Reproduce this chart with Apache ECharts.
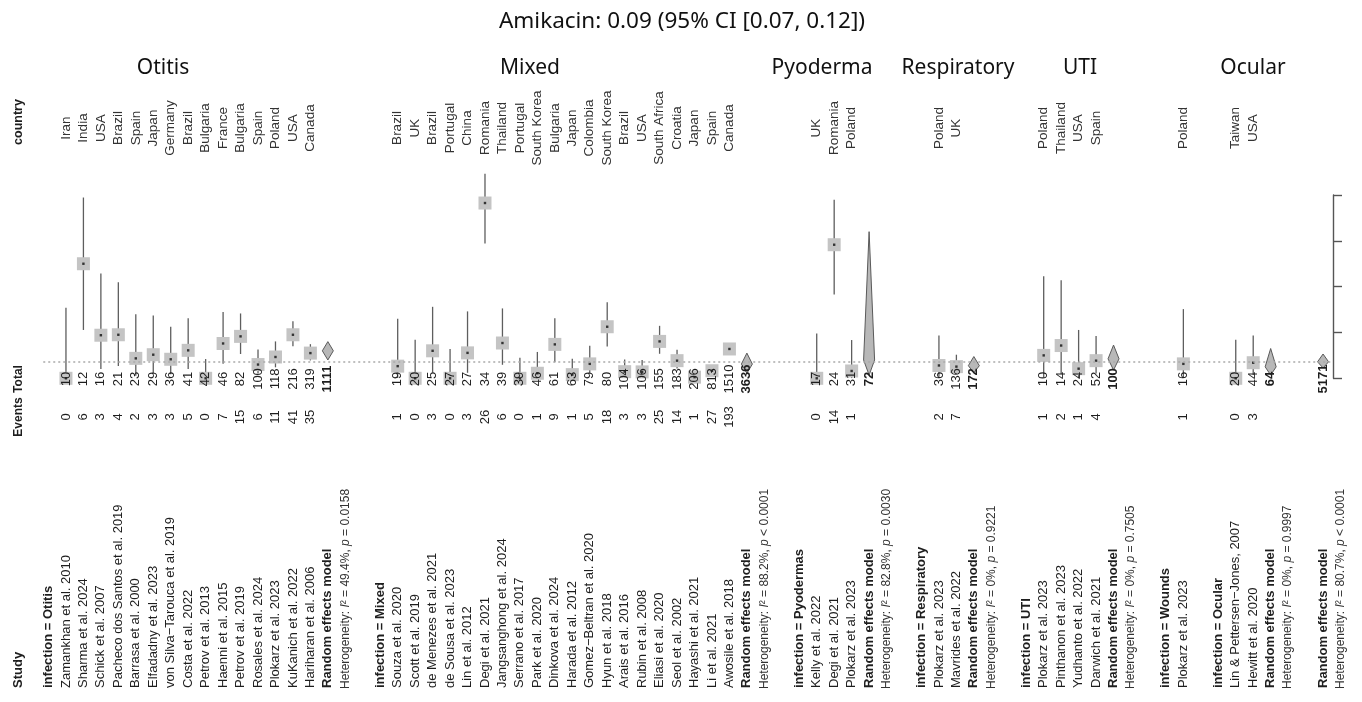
<!DOCTYPE html>
<html><head><meta charset="utf-8">
<script src="https://cdn.jsdelivr.net/npm/echarts@6/dist/echarts.min.js"></script>
<style>html,body{margin:0;padding:0;background:#fff}#c{width:1362px;height:702px}</style>
</head><body><div id="c"></div>
<script>
// ---------------- DATA ----------------
const chartTitle = "Amikacin: 0.09 (95% CI [0.07, 0.12])";

const otitisStudies = ["Zamankhan et al. 2010","Sharma et al. 2024","Schick et al. 2007","Pacheco dos Santos et al. 2019","Barrasa et al. 2000","Elfadadny et al. 2023","von Silva\u2212Tarouca et al. 2019","Costa et al. 2022","Petrov et al. 2013","Haenni et al. 2015","Petrov et al. 2019","Rosales et al. 2024","Plokarz et al. 2023","KuKanich et al. 2022","Hariharan et al. 2006"];
const otitisCountries = ["Iran","India","USA","Brazil","Spain","Japan","Germany","Brazil","Bulgaria","France","Bulgaria","Spain","Poland","USA","Canada"];
const otitisEvents = [0,6,3,4,2,3,3,5,0,7,15,6,11,41,35];
const otitisTotals = [10,12,16,21,23,29,36,41,42,46,82,100,118,216,319];
const otitisEst   = [0,0.5,0.188,0.19,0.087,0.103,0.083,0.122,0,0.152,0.183,0.06,0.093,0.19,0.11];
const otitisLower = [0,0.211,0.041,0.054,0.011,0.022,0.018,0.041,0,0.063,0.106,0.022,0.048,0.14,0.078];
const otitisUpper = [0.308,0.789,0.457,0.419,0.28,0.274,0.225,0.262,0.084,0.289,0.283,0.126,0.161,0.249,0.149];

const mixedStudies = ["Souza et al. 2020","Scott et al. 2019","de Menezes et al. 2021","de Sousa et al. 2023","Lin et al. 2012","Degi et al. 2021","Jangsanghong et al. 2024","Serrano et al. 2017","Park et al. 2020","Dinkova et al. 2024","Harada et al. 2012","Gomez\u2212Beltran et al. 2020","Hyun et al. 2018","Arais et al. 2016","Rubin et al. 2008","Eliasi et al. 2020","Seol et al. 2002","Hayashi et al. 2021","Li et al. 2021","Awosile et al. 2018"];
const mixedCountries = ["Brazil","UK","Brazil","Portugal","China","Romania","Thailand","Portugal","South Korea","Bulgaria","Japan","Colombia","South Korea","Brazil","USA","South Africa","Croatia","Japan","Spain","Canada"];
const mixedEvents = [1,0,3,0,3,26,6,0,1,9,1,5,18,3,3,25,14,1,27,193];
const mixedTotals = [19,20,25,27,27,34,39,39,46,61,63,79,80,104,106,155,183,206,813,1510];
const mixedEst   = [0.053,0,0.12,0,0.111,0.765,0.154,0,0.022,0.148,0.016,0.063,0.225,0.029,0.028,0.161,0.077,0.005,0.033,0.128];
const mixedLower = [0.001,0,0.025,0,0.024,0.588,0.059,0,0.001,0.07,0,0.021,0.139,0.006,0.006,0.107,0.043,0,0.022,0.111];
const mixedUpper = [0.26,0.168,0.312,0.128,0.292,0.893,0.305,0.09,0.115,0.262,0.085,0.142,0.332,0.082,0.08,0.229,0.125,0.027,0.048,0.146];

const pyoStudies = ["Kelly et al. 2022","Degi et al. 2021","Plokarz et al. 2023"];
const pyoCountries = ["UK","Romania","Poland"];
const pyoEvents = [0,14,1];
const pyoTotals = [17,24,31];
const pyoEst   = [0,0.583,0.032];
const pyoLower = [0,0.366,0.001];
const pyoUpper = [0.195,0.779,0.167];

const respStudies = ["Plokarz et al. 2023","Mavrides et al. 2022"];
const respCountries = ["Poland","UK"];
const respEvents = [2,7];
const respTotals = [36,136];
const respEst   = [0.056,0.051];
const respLower = [0.007,0.021];
const respUpper = [0.187,0.103];

const utiStudies = ["Plokarz et al. 2023","Pinthanon et al. 2023","Yudhanto et al. 2022","Darwich et al. 2021"];
const utiCountries = ["Poland","Thailand","USA","Spain"];
const utiEvents = [1,2,1,4];
const utiTotals = [10,14,24,52];
const utiEst   = [0.1,0.143,0.042,0.077];
const utiLower = [0.003,0.018,0.001,0.021];
const utiUpper = [0.445,0.428,0.211,0.185];

const woundStudies = ["Plokarz et al. 2023"];
const woundCountries = ["Poland"];
const woundEvents = [1];
const woundTotals = [16];
const woundEst   = [0.063];
const woundLower = [0.002];
const woundUpper = [0.302];

const ocularStudies = ["Lin & Pettersen\u2212Jones, 2007","Hewitt et al. 2020"];
const ocularCountries = ["Taiwan","USA"];
const ocularEvents = [0,3];
const ocularTotals = [20,44];
const ocularEst   = [0,0.068];
const ocularLower = [0,0.014];
const ocularUpper = [0.168,0.187];

const groupNames  = ["Otitis","Mixed","Pyodermas","Respiratory","UTI","Wounds","Ocular"];
const groupTitles = ["Otitis","Mixed","Pyoderma","Respiratory","UTI","","Ocular"];
const groupTotals = [1111,3636,72,172,100,null,64];
const groupREEst   = [0.12,0.062,0.08,0.055,0.085,null,0.05];
const groupRELower = [0.08,0.022,0.014,0.024,0.036,null,0.014];
const groupREUpper = [0.16,0.11,0.64,0.095,0.145,null,0.13];
const groupI2 = ["49.4%","88.2%","82.8%","0%","0%",null,"0%"];
const groupP  = ["= 0.0158","< 0.0001","= 0.0030","= 0.9221","= 0.7505",null,"= 0.9997"];

const overallTotal = 5171;
const overallEst = 0.072;
const overallLower = 0.045;
const overallUpper = 0.106;
const overallI2 = "80.7%";
const overallP = "< 0.0001";

const yTicks = [0, 0.2, 0.4, 0.6, 0.8];

// ---------------- BUILD ROWS ----------------
const groupData = [
  [otitisStudies, otitisCountries, otitisEvents, otitisTotals, otitisEst, otitisLower, otitisUpper],
  [mixedStudies, mixedCountries, mixedEvents, mixedTotals, mixedEst, mixedLower, mixedUpper],
  [pyoStudies, pyoCountries, pyoEvents, pyoTotals, pyoEst, pyoLower, pyoUpper],
  [respStudies, respCountries, respEvents, respTotals, respEst, respLower, respUpper],
  [utiStudies, utiCountries, utiEvents, utiTotals, utiEst, utiLower, utiUpper],
  [woundStudies, woundCountries, woundEvents, woundTotals, woundEst, woundLower, woundUpper],
  [ocularStudies, ocularCountries, ocularEvents, ocularTotals, ocularEst, ocularLower, ocularUpper]
];
const rows = [];
rows.push({k: -1.7, kind: 'colhead'});
let k = 0;
groupData.forEach((g, gi) => {
  rows.push({k, kind: 'header', text: 'infection = ' + groupNames[gi]}); k++;
  g[0].forEach((s, i) => {
    rows.push({k, kind: 'study', text: s, country: g[1][i], events: g[2][i], total: g[3][i], est: g[4][i], lo: g[5][i], hi: g[6][i]}); k++;
  });
  if (groupREEst[gi] != null) {
    rows.push({k, kind: 're', text: 'Random effects model', total: groupTotals[gi], est: groupREEst[gi], lo: groupRELower[gi], hi: groupREUpper[gi]}); k++;
    rows.push({k, kind: 'het', i2: groupI2[gi], p: groupP[gi]}); k++;
  }
  k++;
});
rows.push({k, kind: 're', text: 'Random effects model', total: overallTotal, est: overallEst, lo: overallLower, hi: overallUpper}); k++;
rows.push({k, kind: 'het', i2: overallI2, p: overallP});

// ---------------- LAYOUT / STYLE ----------------
const FONT = '"Liberation Sans", Arial, sans-serif';
const Y_STUDY = 688, Y_TOTAL = 379, Y_EVENTS = 417, Y_COUNTRY = 128;
const TXT = '#1e1e1e';

function textItem(params, api) {
  const r = rows[params.dataIndex];
  const x = api.coord([r.k, 0])[0];
  const ch = [];
  const add = (text, y, align, font, fill, rich) => {
    const st = {text: String(text), font, fill: fill || TXT, align, verticalAlign: 'middle'};
    if (rich) st.rich = rich;
    ch.push({type: 'text', x, y, rotation: Math.PI / 2, style: st});
  };
  const reg = '13px ' + FONT, bold = 'bold 13px ' + FONT;
  if (r.kind === 'colhead') {
    add('Study', Y_STUDY, 'left', bold);
    add('Total', Y_TOTAL, 'center', 'bold 12px ' + FONT);
    add('Events', Y_EVENTS, 'center', 'bold 12px ' + FONT);
    add('country', Y_COUNTRY - 6, 'center', 'bold 12.5px ' + FONT);
  } else if (r.kind === 'header') {
    add(r.text, Y_STUDY, 'left', bold);
  } else if (r.kind === 'study') {
    add(r.text, Y_STUDY, 'left', reg);
    add(r.events, Y_EVENTS, 'center', reg);
    add(r.total, Y_TOTAL, 'center', reg);
    add(r.country, Y_COUNTRY, 'center', '13.5px ' + FONT, '#333');
  } else if (r.kind === 're') {
    add(r.text, Y_STUDY, 'left', bold);
    add(r.total, Y_TOTAL, 'center', bold);
  } else if (r.kind === 'het') {
    const f = '12px ' + FONT, fi = 'italic 12px ' + FONT;
    add('{a|Heterogeneity: }{i|I}{a|\u00B2 = ' + r.i2 + ', }{i|p}{a| ' + r.p + '}', Y_STUDY + 1, 'left', f, '#333',
      {a: {font: f, fill: '#333'}, i: {font: fi, fill: '#333'}});
  }
  return {type: 'group', children: ch};
}

const markData = rows.filter(r => r.kind === 'study' || r.kind === 're')
  .map(r => [r.k, r.est, r.lo, r.hi, r.kind === 're' ? 1 : 0]);

function markItem(params, api) {
  const kk = api.value(0), est = api.value(1), lo = api.value(2), hi = api.value(3), kind = api.value(4);
  const pE = api.coord([kk, est]), pL = api.coord([kk, lo]), pH = api.coord([kk, hi]);
  if (kind === 1) {
    return {type: 'polygon', shape: {points: [[pE[0], pL[1]], [pE[0] + 5.5, pE[1]], [pE[0], pH[1]], [pE[0] - 5.5, pE[1]]]},
      style: {fill: '#b8b8b8', stroke: '#5a5a5a', lineWidth: 1}};
  }
  const h = 6.5;
  return {type: 'group', children: [
    {type: 'line', shape: {x1: pE[0], y1: pL[1], x2: pE[0], y2: pH[1]}, style: {stroke: '#5e5e5e', lineWidth: 1.3}},
    {type: 'rect', shape: {x: pE[0] - h, y: pE[1] - h, width: 2 * h, height: 2 * h}, style: {fill: '#c4c4c4'}},
    {type: 'rect', shape: {x: pE[0] - 1.2, y: pE[1] - 1.2, width: 2.4, height: 2.4}, style: {fill: '#333'}}
  ]};
}

const titlePos = [163, 530, 822, 958, 1080, 0, 1253];
const graphics = [{type: 'text', x: 682, y: 22, style: {text: chartTitle, font: '22.5px "Noto Sans", sans-serif', fill: '#111', align: 'center', verticalAlign: 'middle', textAlign: 'center', textVerticalAlign: 'middle'}}];
groupTitles.forEach((t, i) => {
  if (!t) return;
  graphics.push({type: 'text', x: titlePos[i], y: 68, style: {text: t, font: '21px "Noto Sans", sans-serif', fill: '#111', align: 'center', verticalAlign: 'middle', textAlign: 'center', textVerticalAlign: 'middle'}});
});

const chart = echarts.init(document.getElementById('c'));
chart.setOption({
  animation: false,
  backgroundColor: '#fff',
  graphic: graphics,
  grid: {left: 13.58, right: 29, top: 195, bottom: 323.7, containLabel: false},
  xAxis: {type: 'value', min: -2, max: 73.57, show: false},
  yAxis: {type: 'value', position: 'right', min: yTicks[0], max: yTicks[yTicks.length - 1], interval: 0.2,
    axisLine: {show: true, onZero: false, lineStyle: {color: '#555', width: 1.4}},
    axisTick: {show: true, inside: false, length: 9, lineStyle: {color: '#555', width: 1.4}},
    axisLabel: {show: false}, splitLine: {show: false}},
  series: [
    {type: 'custom', name: 'text', renderItem: textItem, data: rows.map((r, i) => [r.k, 0, i]),
      encode: {x: 0, y: 1}, silent: true, clip: false, z: 5},
    {type: 'custom', name: 'marks', renderItem: markItem, data: markData, encode: {x: 0, y: [1, 2, 3]},
      clip: false, z: 3, silent: true,
      markLine: {silent: true, symbol: 'none', label: {show: false},
        lineStyle: {type: [2, 3], color: '#aaa', width: 1.5},
        data: [[{coord: [-0.3, overallEst]}, {coord: [73.57, overallEst]}]]}}
  ]
});
</script></body></html>
